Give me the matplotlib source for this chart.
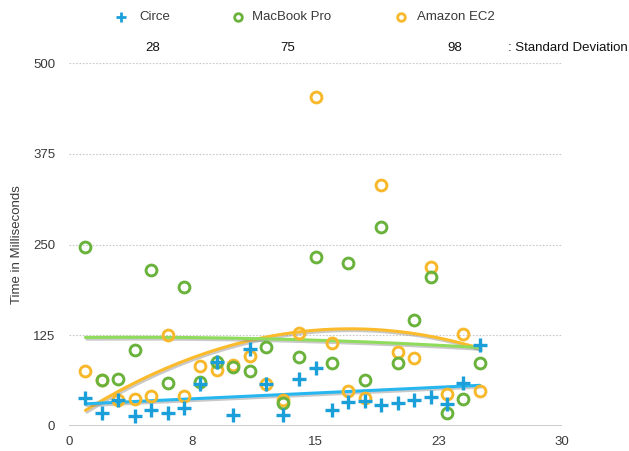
import numpy as np
import matplotlib
matplotlib.use("Agg")
import matplotlib.pyplot as plt
import matplotlib.patheffects as pe

# ---- data ----
runs = list(range(1, 26))
circe = [38.6, 17.9, 35.8, 13.8, 22.0, 17.9, 24.8, 57.9, 88.2, 15.2,
         106.0, 57.9, 15.2, 64.7, 79.9, 22.0, 33.0, 34.4, 28.9, 31.7,
         35.8, 40.0, 30.3, 59.2, 111.6]
macbook = [246.6, 63.4, 64.7, 104.7, 214.9, 59.2, 191.5, 60.6, 88.2, 81.3,
           75.8, 108.8, 31.7, 95.0, 232.8, 86.8, 224.5, 63.4, 274.1, 86.8,
           146.0, 205.2, 17.9, 37.2, 86.8]
ec2 = [75.8, 63.0, 35.8, 37.2, 41.3, 125.3, 41.3, 82.6, 77.1, 84.0,
       96.4, 57.9, 35.8, 128.0, 453.0, 114.3, 48.2, 38.6, 332.0, 101.9,
       93.7, 219.0, 44.0, 126.7, 48.2]
series_names = ["Circe", "MacBook Pro", "Amazon EC2"]
std_labels = ["28", "75", "98"]
xticks = [0, 7.5, 15, 22.5, 30]
xtick_labels = ["0", "8", "15", "23", "30"]
yticks = [0, 125, 250, 375, 500]

c_blue = "#1a9fd9"
c_green = "#69b23c"
c_orange = "#f7b82a"
l_blue = "#27b7f0"
l_green = "#8fdc5c"
l_orange = "#fbbb2b"
txt = "#3a3a3a"

plt.rcParams["font.family"] = ["Liberation Sans", "DejaVu Sans"]

fig = plt.figure(figsize=(6.29, 4.51), dpi=100)
ax = fig.add_axes([69 / 629, 25 / 451, 493 / 629, 363 / 451])
ax.set_xlim(0, 30)
ax.set_ylim(0, 500)

# grid
for y in yticks[1:]:
    ax.axhline(y, color="#c8c8c8", lw=0.8, ls=(0, (1.5, 1.5)), zorder=0)
ax.axhline(0, color="#c4c4c4", lw=1.2, zorder=0)

# trend lines
xs = np.linspace(1, 25, 200)
shadow = [pe.SimpleLineShadow(offset=(1.0, -1.3), shadow_color="#888888", alpha=0.45), pe.Normal()]
for data, col, deg in [(ec2, l_orange, 2), (macbook, l_green, 2), (circe, l_blue, 1)]:
    coef = np.polyfit(runs, data, deg)
    ax.plot(xs, np.polyval(coef, xs), color=col, lw=2.2, zorder=2,
            solid_capstyle="round", path_effects=shadow)

# markers
ax.plot(runs, ec2, ls="none", marker="o", ms=7.8, mfc="none", mec=c_orange, mew=2.1, zorder=3, clip_on=False)
ax.plot(runs, macbook, ls="none", marker="o", ms=7.8, mfc="none", mec=c_green, mew=2.1, zorder=4, clip_on=False)
ax.plot(runs, circe, ls="none", marker="+", ms=10, mec=c_blue, mew=2.4, zorder=5, clip_on=False)

for s in ax.spines.values():
    s.set_visible(False)
ax.set_xticks(xticks)
ax.set_xticklabels(xtick_labels)
ax.set_yticks(yticks)
ax.tick_params(length=0, labelsize=9.5, colors=txt)
ax.tick_params(axis="x", pad=7)
ax.tick_params(axis="y", pad=10)
ax.set_ylabel("Time in Milliseconds", fontsize=9.5, color=txt)
ax.yaxis.set_label_coords(-46 / 493, 0.5)

# legend (manual)
H = 451
leg_y = 1 - 17 / H
leg = [(121, 139, series_names[0], "+", c_blue), (238, 252, series_names[1], "o", c_green),
       (401, 417, series_names[2], "o", c_orange)]
for mx, tx, name, m, col in leg:
    if m == "+":
        fig.lines.append(plt.Line2D([mx / 629], [leg_y], transform=fig.transFigure, ls="none",
                                    marker="+", ms=7, mec=col, mew=2.0))
    else:
        fig.lines.append(plt.Line2D([mx / 629], [leg_y], transform=fig.transFigure, ls="none",
                                    marker="o", ms=5.5, mfc="none", mec=col, mew=2.0))
    fig.text(tx / 629, leg_y, name, fontsize=9.5, color=txt, va="center", ha="left")

# standard deviation row
sd_y = 1 - 48 / H
for px, lab in zip([153, 288, 455], std_labels):
    fig.text(px / 629, sd_y, lab, fontsize=9.5, color="#111111", va="center", ha="center")
fig.text(508 / 629, sd_y, ": Standard Deviation", fontsize=9.5, color="#111111", va="center", ha="left")

fig.savefig("out.png", dpi=100)
